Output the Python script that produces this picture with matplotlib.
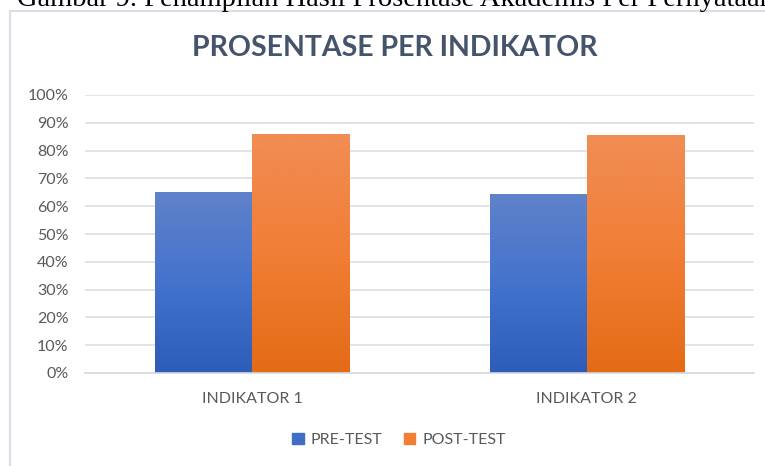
import numpy as np
import matplotlib.pyplot as plt
from matplotlib.patches import Rectangle
from matplotlib.colors import LinearSegmentedColormap

categories = ['INDIKATOR 1', 'INDIKATOR 2']
pre_test = [0.65, 0.643]
post_test = [0.86, 0.856]
series_names = ['PRE-TEST', 'POST-TEST']
yticks = [0.0, 0.1, 0.2, 0.3, 0.4, 0.5, 0.6, 0.7, 0.8, 0.9, 1.0]

W, H = 765, 466
fig = plt.figure(figsize=(W / 100, H / 100), dpi=100)

# cut-off caption at the very top
fig.text(17 / W, 1 - 5.5 / H, 'Gambar 9. Penampilan Hasil Prosentase Akademis Per Pernyataan',
         family='Liberation Serif', fontsize=20.5, color='black', va='baseline', ha='left')

# chart frame (runs off right and bottom edges)
fig.patches.append(Rectangle((9.5 / W, -0.05), 1.2, 1 - 10.5 / H + 0.05,
                             transform=fig.transFigure, fill=False,
                             edgecolor='#D9DEE7', linewidth=1.6))

ax = fig.add_axes([85 / W, 1 - 373 / H, (754 - 85) / W, (373 - 95) / H])
x = np.arange(len(categories))
w = 0.29

blue_cmap = LinearSegmentedColormap.from_list('b', ['#2D5DB8', '#4473CD', '#5F82CA'])
orange_cmap = LinearSegmentedColormap.from_list('o', ['#E46B16', '#F17E35', '#F18D55'])

b1 = ax.bar(x - w / 2, pre_test, w, color='#3F6EC7', label=series_names[0])
b2 = ax.bar(x + w / 2, post_test, w, color='#F07F36', label=series_names[1])

grad = np.linspace(0, 1, 256).reshape(-1, 1)
for bars, cmap in [(b1, blue_cmap), (b2, orange_cmap)]:
    for r in bars:
        x0, y0 = r.get_x(), r.get_y()
        im = ax.imshow(grad, cmap=cmap, origin='lower', aspect='auto',
                       extent=[x0, x0 + r.get_width(), y0, y0 + r.get_height()], zorder=2)
        im.set_clip_path(r)

ax.set_xlim(-0.5, len(categories) - 0.5)
ax.set_ylim(0, 1.0)
ax.set_yticks(yticks)
ax.set_yticklabels(['%d%%' % round(v * 100) for v in yticks])
ax.set_xticks(x)
ax.set_xticklabels(categories)
ax.grid(axis='y', color='#DCE0E6', linewidth=1.2, zorder=0)
ax.set_axisbelow(True)
for s in ['top', 'right', 'left']:
    ax.spines[s].set_visible(False)
ax.spines['bottom'].set_color('#D4D9E0')
ax.spines['bottom'].set_linewidth(1.2)
ax.tick_params(axis='both', length=0, colors='#595959', labelsize=11.5)
ax.tick_params(axis='y', pad=12)
ax.tick_params(axis='x', pad=14)
for t in ax.get_xticklabels() + ax.get_yticklabels():
    t.set_family('Lato')

fig.text(395 / W, 1 - 48 / H, 'PROSENTASE PER INDIKATOR', ha='center', va='center',
         family='Lato', fontweight='bold', fontsize=20.5, color='#44546A')

leg = fig.legend(handles=[Rectangle((0, 0), 1, 1, color='#3F6EC7'),
                          Rectangle((0, 0), 1, 1, color='#F07F36')],
                 labels=series_names, loc='center', bbox_to_anchor=(399 / W, 1 - 440 / H),
                 ncol=2, frameon=False, handlelength=0.75, handleheight=0.75,
                 handletextpad=0.45, columnspacing=1.3,
                 prop={'family': 'Lato', 'size': 11.5})
for t in leg.get_texts():
    t.set_color('#595959')

fig.savefig('out.png', dpi=100)
